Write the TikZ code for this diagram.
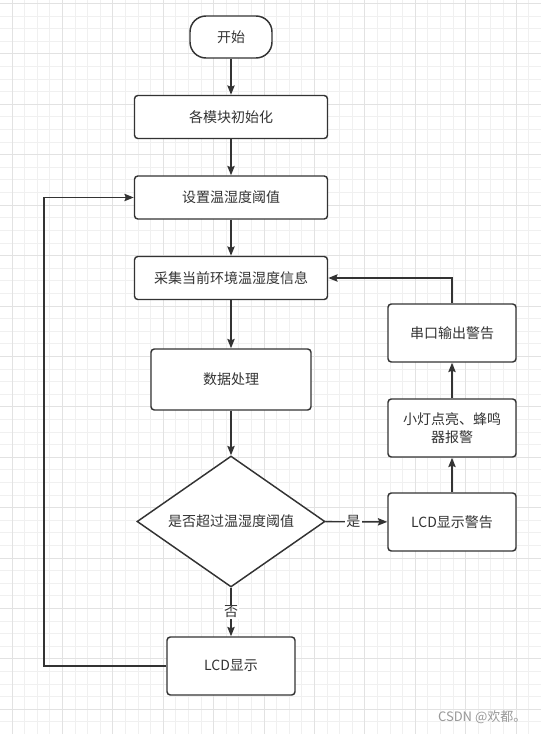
\documentclass[tikz,border=0pt]{standalone}
\usepackage{fontspec}
\setmainfont{Noto Sans CJK SC}
\usetikzlibrary{arrows.meta,shapes.geometric}
\definecolor{linegray}{HTML}{333333}
\definecolor{gridminor}{HTML}{F0F0F0}
\definecolor{gridmajor}{HTML}{E2E2E2}
\begin{document}
\begin{tikzpicture}[x=0.75pt, y=-0.75pt,
    every node/.style={font=\fontsize{10.5pt}{13.3pt}\selectfont, text=linegray},
    box/.style={draw=linegray, line width=1.1pt, fill=white, rounded corners=2.5pt,
      minimum width=144.75pt, minimum height=32.25pt, inner sep=0pt},
    smallbox/.style={box, minimum width=96pt, minimum height=43.5pt, align=center},
    terminal/.style={box, minimum width=61.5pt, minimum height=31.5pt, rounded corners=12pt},
    decision/.style={draw=linegray, line width=1.1pt, fill=white, diamond, aspect=1.435,
      minimum width=141pt, minimum height=98.25pt, inner sep=0pt},
    arr/.style={draw=linegray, line width=1.1pt, -{Stealth[length=7pt,width=5.5pt,inset=1pt]}},
    lbl/.style={fill=white, inner sep=1pt}]
    \useasboundingbox (0,0) rectangle (541,734);
    \fill[white] (0,0) rectangle (541,734);

    % grid
    \foreach \i in {1,...,43} \draw[gridminor, line width=0.75pt] (-0.6+12.6*\i,0) -- (-0.6+12.6*\i,734);
    \foreach \j in {0,...,58} \draw[gridminor, line width=0.75pt] (0,3.6+12.6*\j) -- (541,3.6+12.6*\j);
    \foreach \i in {0,...,10} \draw[gridmajor, line width=0.75pt] (12+50.4*\i,0) -- (12+50.4*\i,734);
    \foreach \j in {0,...,14} \draw[gridmajor, line width=0.75pt] (0,3.6+50.4*\j) -- (541,3.6+50.4*\j);

    % main column
    \node[terminal] (start) at (231,37) {开始};
    \node[box] (init) at (231,117) {各模块初始化};
    \node[box] (setlim) at (231,197.5) {设置温湿度阈值};
    \node[box] (collect) at (231,278) {采集当前环境温湿度信息};
    \node[box, minimum width=120pt, minimum height=45.75pt] (proc) at (231,379.5) {数据处理};
    \node[decision] (check) at (231,521.5) {是否超过温湿度阈值};
    \node[smallbox] (lcd) at (231,666) {LCD显示};

    % alarm column
    \node[smallbox] (lcdwarn) at (452,522) {LCD显示警告};
    \node[smallbox] (buzz) at (452,428) {小灯点亮、蜂鸣\\器报警};
    \node[smallbox] (serial) at (452,333) {串口输出警告};
    \coordinate (back) at (44,666);

    \draw[arr] (start) -- (init);
    \draw[arr] (init) -- (setlim);
    \draw[arr] (setlim) -- (collect);
    \draw[arr] (collect) -- (proc);
    \draw[arr] (proc) -- (check);
    \draw[arr] (check) -- node[lbl] {否} (lcd);
    \draw[arr] (check) -- node[lbl, pos=0.45] {是} (lcdwarn);
    \draw[arr] (lcdwarn) -- (buzz);
    \draw[arr] (buzz) -- (serial);
    \draw[arr] (serial.north) |- (collect.east);
    \draw[arr] (lcd.west) -- (back) |- (setlim.west);

    \node[anchor=east, text=gray!80, font=\fontsize{9.75pt}{11pt}\selectfont] (mark) at (531,717) {CSDN @欢都。};
\end{tikzpicture}
\end{document}
